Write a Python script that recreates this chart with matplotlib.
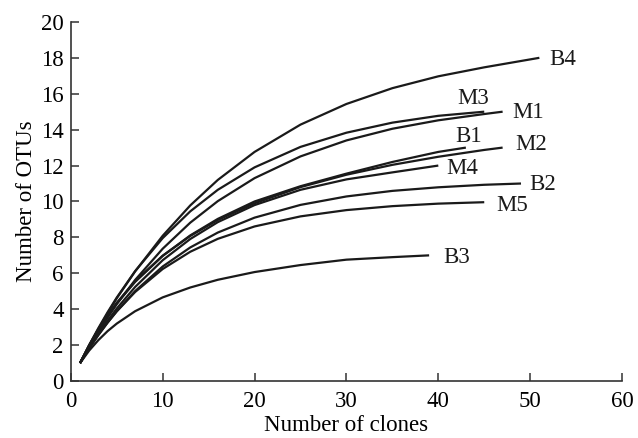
import matplotlib
matplotlib.use("Agg")
import matplotlib.pyplot as plt

plt.rcParams['font.family'] = ['Liberation Serif', 'DejaVu Serif']

# rarefaction curves, values
x_b4 = [1, 2, 3, 4, 5, 7, 10, 13, 16, 20, 25, 30, 35, 40, 45, 51]
y_b4 = [1, 1.97, 2.90, 3.77, 4.61, 6.11, 8.09, 9.78, 11.2, 12.76, 14.28, 15.43, 16.31, 16.97, 17.47, 18.0]

x_m3 = [1, 2, 3, 4, 5, 7, 10, 13, 16, 20, 25, 30, 35, 40, 45]
y_m3 = [1, 2.01, 2.95, 3.83, 4.65, 6.12, 7.96, 9.45, 10.65, 11.9, 13.04, 13.83, 14.39, 14.77, 15.0]

x_m1 = [1, 2, 3, 4, 5, 7, 10, 13, 16, 20, 25, 30, 35, 40, 45, 47]
y_m1 = [1, 1.90, 2.74, 3.53, 4.28, 5.63, 7.37, 8.82, 10.02, 11.3, 12.51, 13.40, 14.05, 14.52, 14.87, 15.0]

x_b1 = [1, 2, 3, 4, 5, 7, 10, 13, 16, 20, 25, 30, 35, 40, 43]
y_b1 = [1, 1.98, 2.84, 3.62, 4.32, 5.52, 6.97, 8.11, 9.03, 10.0, 10.85, 11.55, 12.2, 12.76, 13.0]

x_m2 = [1, 2, 3, 4, 5, 7, 10, 13, 16, 20, 25, 30, 35, 40, 45, 47]
y_m2 = [1, 2.0, 2.88, 3.66, 4.36, 5.56, 6.98, 8.08, 8.97, 9.9, 10.8, 11.49, 12.04, 12.49, 12.87, 13.0]

x_m4 = [1, 2, 3, 4, 5, 7, 10, 13, 16, 20, 25, 30, 35, 40]
y_m4 = [1, 1.85, 2.63, 3.36, 4.04, 5.24, 6.73, 7.91, 8.85, 9.8, 10.65, 11.23, 11.62, 12.0]

x_b2 = [1, 2, 3, 4, 5, 7, 10, 13, 16, 20, 25, 30, 35, 40, 45, 49]
y_b2 = [1, 1.82, 2.56, 3.25, 3.89, 5.01, 6.38, 7.44, 8.27, 9.1, 9.81, 10.28, 10.59, 10.79, 10.93, 11.0]

x_m5 = [1, 2, 3, 4, 5, 7, 10, 13, 16, 20, 25, 30, 35, 40, 45]
y_m5 = [1, 1.83, 2.58, 3.26, 3.88, 4.96, 6.24, 7.20, 7.92, 8.61, 9.17, 9.52, 9.74, 9.88, 9.96]

x_b3 = [1, 2, 3, 4, 5, 7, 10, 13, 16, 20, 25, 30, 35, 39]
y_b3 = [1, 1.70, 2.28, 2.78, 3.2, 3.89, 4.66, 5.21, 5.64, 6.07, 6.46, 6.76, 6.9, 7.0]

names = ['B4', 'M3', 'M1', 'B1', 'M2', 'M4', 'B2', 'M5', 'B3']
curves = [(x_b4, y_b4), (x_m3, y_m3), (x_m1, y_m1), (x_b1, y_b1), (x_m2, y_m2),
          (x_m4, y_m4), (x_b2, y_b2), (x_m5, y_m5), (x_b3, y_b3)]

# where each curve name sits (data coords)
label_pos = {'B4': (52.1, 17.9), 'M3': (42.1, 15.75), 'M1': (48.1, 14.95),
             'B1': (41.8, 13.6), 'M2': (48.4, 13.2), 'M4': (40.9, 11.85),
             'B2': (49.9, 10.95), 'M5': (46.3, 9.8), 'B3': (40.5, 6.9)}

fig = plt.figure(figsize=(6.38, 4.38), dpi=100)
ax = fig.add_axes([0.111, 0.130, 0.864, 0.820])

for name, (xs, ys) in zip(names, curves):
    ax.plot(xs, ys, color='#1a1a1a', lw=1.6, solid_capstyle='butt',
            solid_joinstyle='round')
    lx, ly = label_pos[name]
    ax.text(lx, ly, name, fontsize=16.5, ha='left', va='center', color='#1a1a1a')

ax.set_xlim(0, 60)
ax.set_ylim(0, 20)
ax.set_xticks(range(0, 61, 10))
ax.set_yticks(range(0, 21, 2))
ax.spines['top'].set_visible(False)
ax.spines['right'].set_visible(False)
for s in ['left', 'bottom']:
    ax.spines[s].set_linewidth(1.2)
    ax.spines[s].set_color('#333333')
ax.tick_params(direction='in', length=6, width=1.1, labelsize=16.5, color='#333333')
ax.tick_params(axis='x', pad=7)
ax.tick_params(axis='y', pad=5)
ax.set_xlabel('Number of clones', fontsize=16.5, labelpad=2)
ax.set_ylabel('Number of OTUs', fontsize=16.5, labelpad=3)

fig.savefig('out.png', dpi=100)
